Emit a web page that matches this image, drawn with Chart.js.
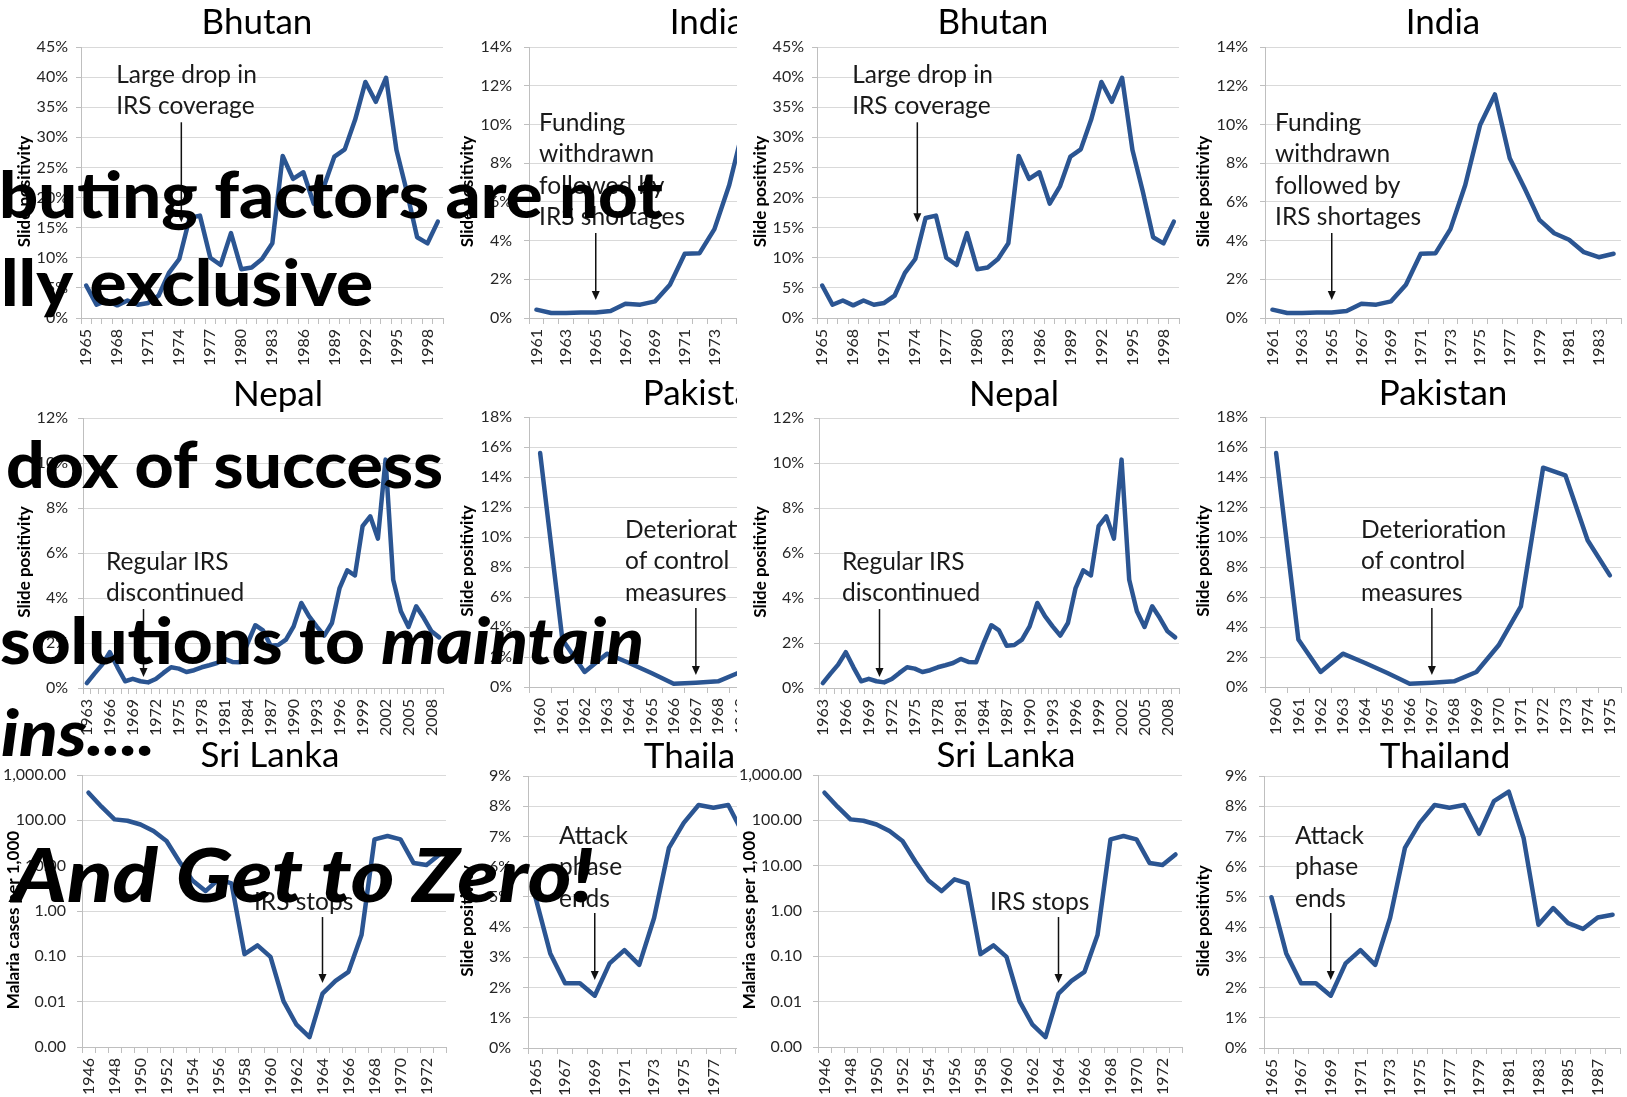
<!DOCTYPE html>
<html>
<head>
<meta charset="utf-8">
<script src="https://cdn.jsdelivr.net/npm/chart.js@4.4.0/dist/chart.umd.min.js"></script>
<style>
  body { margin: 0; background: #fff; width: 1627px; height: 1097px; overflow: hidden; position: relative; }
  .copy { position: absolute; top: 0; height: 1097px; overflow: hidden; }
  .copy canvas { position: absolute; }
  #overlay { position: absolute; left: 0; top: 0; }
</style>
</head>
<body>
<div class="copy" id="leftCopy" style="left:0;width:737px"></div>
<div class="copy" id="rightCopy" style="left:736px;width:891px"></div>
<canvas id="overlay" width="737" height="1097"></canvas>
<script>
// ---- data ----
const bhutanYears = ['1965','1966','1967','1968','1969','1970','1971','1972','1973','1974','1975','1976','1977','1978','1979','1980','1981','1982','1983','1984','1985','1986','1987','1988','1989','1990','1991','1992','1993','1994','1995','1996','1997','1998','1999'];
const bhutanValues = [5.4, 2.2, 2.9, 2.1, 2.9, 2.2, 2.5, 3.7, 7.5, 9.8, 16.6, 17.0, 10.0, 8.8, 14.1, 8.1, 8.4, 9.8, 12.4, 26.9, 23.1, 24.2, 19.0, 21.9, 26.8, 28.0, 32.9, 39.2, 35.9, 39.9, 27.9, 21.0, 13.4, 12.4, 16.0];
const bhutanTicks = ['1965','1968','1971','1974','1977','1980','1983','1986','1989','1992','1995','1998'];

const indiaYears = ['1961','1962','1963','1964','1965','1966','1967','1968','1969','1970','1971','1972','1973','1974','1975','1976','1977','1978','1979','1980','1981','1982','1983','1984'];
const indiaValues = [0.43, 0.26, 0.26, 0.29, 0.29, 0.36, 0.74, 0.69, 0.86, 1.72, 3.32, 3.35, 4.59, 6.87, 9.97, 11.55, 8.25, 6.7, 5.07, 4.38, 4.04, 3.4, 3.14, 3.32];
const indiaTicks = ['1961','1963','1965','1967','1969','1971','1973','1975','1977','1979','1981','1983'];

const nepalYears = ['1963','1964','1965','1966','1967','1968','1969','1970','1971','1972','1973','1974','1975','1976','1977','1978','1979','1980','1981','1982','1983','1984','1985','1986','1987','1988','1989','1990','1991','1992','1993','1994','1995','1996','1997','1998','1999','2000','2001','2002','2003','2004','2005','2006','2007','2008','2009'];
const nepalValues = [0.22, 0.64, 1.04, 1.59, 0.92, 0.30, 0.41, 0.30, 0.25, 0.40, 0.67, 0.92, 0.86, 0.71, 0.79, 0.92, 1.01, 1.11, 1.29, 1.16, 1.14, 2.0, 2.79, 2.56, 1.88, 1.91, 2.15, 2.74, 3.78, 3.19, 2.74, 2.33, 2.89, 4.44, 5.23, 5.0, 7.19, 7.63, 6.64, 10.15, 4.81, 3.41, 2.71, 3.63, 3.11, 2.52, 2.25];
const nepalTicks = ['1963','1966','1969','1972','1975','1978','1981','1984','1987','1990','1993','1996','1999','2002','2005','2008'];

const pakistanYears = ['1960','1961','1962','1963','1964','1965','1966','1967','1968','1969','1970','1971','1972','1973','1974','1975'];
const pakistanValues = [15.6, 3.16, 1.0, 2.22, 1.6, 0.93, 0.22, 0.29, 0.38, 1.0, 2.78, 5.38, 14.62, 14.11, 9.78, 7.44];
const pakistanTicks = pakistanYears;

const sriLankaYears = ['1946','1947','1948','1949','1950','1951','1952','1953','1954','1955','1956','1957','1958','1959','1960','1961','1962','1963','1964','1965','1966','1967','1968','1969','1970','1971','1972','1973'];
const sriLankaValues = [407, 200, 105, 98, 81, 58, 35, 12.2, 4.7, 2.75, 5.0, 4.05, 0.112, 0.175, 0.097, 0.0103, 0.0031, 0.00165, 0.0151, 0.0288, 0.0455, 0.294, 38, 45, 38, 11.5, 10.3, 17.7];
const sriLankaTicks = ['1946','1948','1950','1952','1954','1956','1958','1960','1962','1964','1966','1968','1970','1972'];
const sriLankaYTicks = [0.001, 0.01, 0.1, 1, 10, 100, 1000];

const thailandYears = ['1965','1966','1967','1968','1969','1970','1971','1972','1973','1974','1975','1976','1977','1978','1979','1980','1981','1982','1983','1984','1985','1986','1987','1988'];
const thailandValues = [4.99, 3.13, 2.14, 2.14, 1.73, 2.80, 3.24, 2.75, 4.30, 6.62, 7.45, 8.04, 7.95, 8.04, 7.09, 8.17, 8.48, 6.95, 4.08, 4.63, 4.13, 3.94, 4.32, 4.41];
const thailandTicks = ['1965','1967','1969','1971','1973','1975','1977','1979','1981','1983','1985','1987'];

// ---- styles ----
const BLUE = '#2b5592';
const GRID = '#d9d9d9';
const AXIS = '#bfbfbf';
const TICK = '#262626';

// chart panels, positions relative to one copy of the grid
const panels = [
  { title: 'Bhutan', years: bhutanYears, values: bhutanValues, ticks: bhutanTicks, max: 45, step: 5,
    yTitle: 'Slide positivity', left: 0, top: 0, w: 447, h: 372, box: { l: 81, r: 443, t: 47, b: 318 },
    titleGap: 24, titleDx: -5, yTitleX: 25, tickPad: 8,
    note: { lines: ['Large drop in', 'IRS coverage'], x: 2.9, y: 40.35 }, arrow: { x: 9.2, from: 32.5, to: 15.9 } },
  { title: 'India', years: indiaYears, values: indiaValues, ticks: indiaTicks, max: 14, step: 2,
    yTitle: 'Slide positivity', left: 447, top: 0, w: 444, h: 372, box: { l: 82, r: 438, t: 47, b: 318 },
    titleGap: 24, titleDx: 0, yTitleX: 21, tickPad: 12,
    note: { lines: ['Funding', 'withdrawn', 'followed by', 'IRS shortages'], x: 0.18, y: 10.07 }, arrow: { x: 4, from: 4.39, to: 0.93 } },
  { title: 'Nepal', years: nepalYears, values: nepalValues, ticks: nepalTicks, max: 12, step: 2,
    yTitle: 'Slide positivity', left: 0, top: 372, w: 447, h: 365, box: { l: 83, r: 443, t: 46, b: 316 },
    titleGap: 23, titleDx: 15, yTitleX: 25, tickPad: 10,
    note: { lines: ['Regular IRS', 'discontinued'], x: 2.5, y: 5.6 }, arrow: { x: 7.4, from: 3.51, to: 0.49 } },
  { title: 'Pakistan', years: pakistanYears, values: pakistanValues, ticks: pakistanTicks, max: 18, step: 2,
    yTitle: 'Slide positivity', left: 447, top: 372, w: 444, h: 365, box: { l: 82, r: 438, t: 45, b: 315 },
    titleGap: 23, titleDx: 0, yTitleX: 21, tickPad: 12,
    note: { lines: ['Deterioration', 'of control', 'measures'], x: 3.82, y: 10.47 }, arrow: { x: 7, from: 5.27, to: 0.8 } },
  { title: 'Sri Lanka', years: sriLankaYears, values: sriLankaValues, ticks: sriLankaTicks, log: true,
    yTitle: 'Malaria cases per 1,000', left: 0, top: 737, w: 447, h: 360, box: { l: 82, r: 446, t: 38, b: 310 },
    titleGap: 19, titleDx: 6, yTitleX: 14, tickPad: 11,
    note: { lines: ['IRS stops'], x: 12.73, y: 1.58 }, arrow: { x: 18, from: 0.736, to: 0.0258 } },
  { title: 'Thailand', years: thailandYears, values: thailandValues, ticks: thailandTicks, max: 9, step: 1,
    yTitle: 'Slide positivity', left: 447, top: 737, w: 444, h: 360, box: { l: 81, r: 437, t: 39, b: 311 },
    titleGap: 19, titleDx: 3, yTitleX: 21, tickPad: 12,
    note: { lines: ['Attack', 'phase', 'ends'], x: 1.59, y: 7.02 }, arrow: { x: 4, from: 4.47, to: 2.25 } }
];

function drawNotes(chart, s) {
  const { ctx, chartArea, scales } = chart;
  const x = scales.x, y = scales.y;
  ctx.save();
  ctx.fillStyle = '#000';
  ctx.font = '35px Lato';
  ctx.textAlign = 'center';
  ctx.textBaseline = 'middle';
  ctx.fillText(s.title, (chartArea.left + chartArea.right) / 2 + s.titleDx, chartArea.top - s.titleGap);

  // y axis title, a bit below the middle like the original
  ctx.save();
  ctx.translate(s.yTitleX, (chartArea.top + chartArea.bottom) / 2 + 9);
  ctx.rotate(-Math.PI / 2);
  ctx.font = 'bold 17px Lato';
  ctx.fillText(s.yTitle, 0, 0);
  ctx.restore();

  ctx.fillStyle = '#1a1a1a';
  ctx.font = '24.5px Lato';
  ctx.textAlign = 'left';
  const tx = x.getPixelForValue(s.note.x);
  const ty = y.getPixelForValue(s.note.y);
  s.note.lines.forEach((line, i) => ctx.fillText(line, tx, ty + i * 31.5));

  const ax = x.getPixelForValue(s.arrow.x);
  const y0 = y.getPixelForValue(s.arrow.from);
  const y1 = y.getPixelForValue(s.arrow.to);
  ctx.strokeStyle = '#111';
  ctx.lineWidth = 1.5;
  ctx.beginPath();
  ctx.moveTo(ax, y0);
  ctx.lineTo(ax, y1 - 6);
  ctx.stroke();
  ctx.fillStyle = '#111';
  ctx.beginPath();
  ctx.moveTo(ax, y1);
  ctx.lineTo(ax - 4, y1 - 9);
  ctx.lineTo(ax + 4, y1 - 9);
  ctx.closePath();
  ctx.fill();
  ctx.restore();
}

function makeChart(parent, s) {
  const cv = document.createElement('canvas');
  cv.width = s.w;
  cv.height = s.h;
  cv.style.left = s.left + 'px';
  cv.style.top = s.top + 'px';
  parent.appendChild(cv);
  const shown = new Set(s.ticks);
  const tickFont = { family: 'Lato', size: 16 };

  const yScale = {
    grid: { color: GRID, tickLength: 5, tickColor: AXIS },
    border: { color: AXIS },
    ticks: { color: TICK, font: tickFont, padding: s.tickPad },
    afterFit(sc) { sc.width = s.box.l; sc.paddingTop = 0; sc.paddingBottom = 0; }
  };
  if (s.log) {
    yScale.type = 'logarithmic';
    yScale.min = 0.001;
    yScale.max = 1000;
    yScale.afterBuildTicks = sc => { sc.ticks = sriLankaYTicks.map(v => ({ value: v })); };
    yScale.ticks.callback = v => Number(v).toLocaleString('en-US', { minimumFractionDigits: 2, maximumFractionDigits: 2 });
  } else {
    yScale.min = 0;
    yScale.max = s.max;
    yScale.ticks.stepSize = s.step;
    yScale.ticks.callback = v => v + '%';
  }

  new Chart(cv, {
    type: 'line',
    data: {
      labels: s.years,
      datasets: [{ data: s.values, borderColor: BLUE, borderWidth: 4.5, pointRadius: 0, tension: 0,
                   borderJoinStyle: 'round', borderCapStyle: 'round', fill: false }]
    },
    options: {
      responsive: false,
      animation: false,
      devicePixelRatio: 1,
      layout: { padding: { top: s.box.t, right: s.w - s.box.r, left: 0, bottom: 0 } },
      plugins: { legend: { display: false }, tooltip: { enabled: false } },
      scales: {
        x: {
          offset: true,
          grid: { offset: true, drawOnChartArea: false, tickLength: 6, color: AXIS },
          border: { color: AXIS },
          ticks: {
            autoSkip: false, maxRotation: 90, minRotation: 90, padding: 5, color: TICK, font: tickFont,
            callback(v) { const l = this.getLabelForValue(v); return shown.has(l) ? l : ''; }
          },
          afterFit(sc) { sc.height = s.h - s.box.b; sc.paddingLeft = 0; sc.paddingRight = 0; }
        },
        y: yScale
      }
    },
    plugins: [{ id: 'notes', afterDatasetsDraw(chart) { drawNotes(chart, s); } }]
  });
}

// big slide text lying over the left copy (its start runs off the left edge)
const overlayLines = [
  { pre: 'Contri', parts: [['buting factors are not', false]], x0: -1, x1: 663, base: 218, size: 64 },
  { pre: 'mutua', parts: [['lly exclusive', false]], x0: 1, x1: 373, base: 306, size: 64 },
  { pre: 'Para', parts: [['dox of success', false]], x0: 6, x1: 443, base: 488, size: 64, clip: true },
  { pre: 'Need ', parts: [['solutions to ', false], ['maintain', true]], x0: 0, x1: 644, base: 664, size: 64 },
  { pre: 'ga', parts: [['ins....', true]], x0: 1, x1: 155, base: 756, size: 64 },
  { pre: '', parts: [['And Get to Zero!', true]], x0: 12, x1: 594, base: 902, size: 74 }
];

function drawOverlay() {
  const ctx = document.getElementById('overlay').getContext('2d');
  ctx.fillStyle = '#000';
  ctx.textBaseline = 'alphabetic';
  ctx.textAlign = 'left';
  overlayLines.forEach(L => {
    const font = it => (it ? 'italic ' : '') + '900 ' + L.size + 'px Lato';
    let visW = 0;
    L.parts.forEach(([t, it]) => { ctx.font = font(it); visW += ctx.measureText(t).width; });
    ctx.font = font(L.parts[0][1]);
    const preW = ctx.measureText(L.pre).width;
    const k = (L.x1 - L.x0) / visW;
    ctx.save();
    if (L.clip) {
      ctx.beginPath();
      ctx.rect(L.x0 - 1, 0, 737, 1097);
      ctx.clip();
    }
    ctx.translate(L.x0, L.base);
    ctx.scale(k, 1);
    ctx.fillText(L.pre, -preW, 0);
    let cx = 0;
    L.parts.forEach(([t, it]) => {
      ctx.font = font(it);
      ctx.fillText(t, cx, 0);
      cx += ctx.measureText(t).width;
    });
    ctx.restore();
  });
}

function build() {
  const leftCopy = document.getElementById('leftCopy');
  const rightCopy = document.getElementById('rightCopy');
  panels.forEach(p => { makeChart(leftCopy, p); makeChart(rightCopy, p); });
  drawOverlay();
}

Promise.all(['35px Lato', 'bold 17px Lato', '900 64px Lato', 'italic 900 64px Lato']
  .map(f => document.fonts.load(f).catch(() => null))).then(build, build);
</script>
</body>
</html>
